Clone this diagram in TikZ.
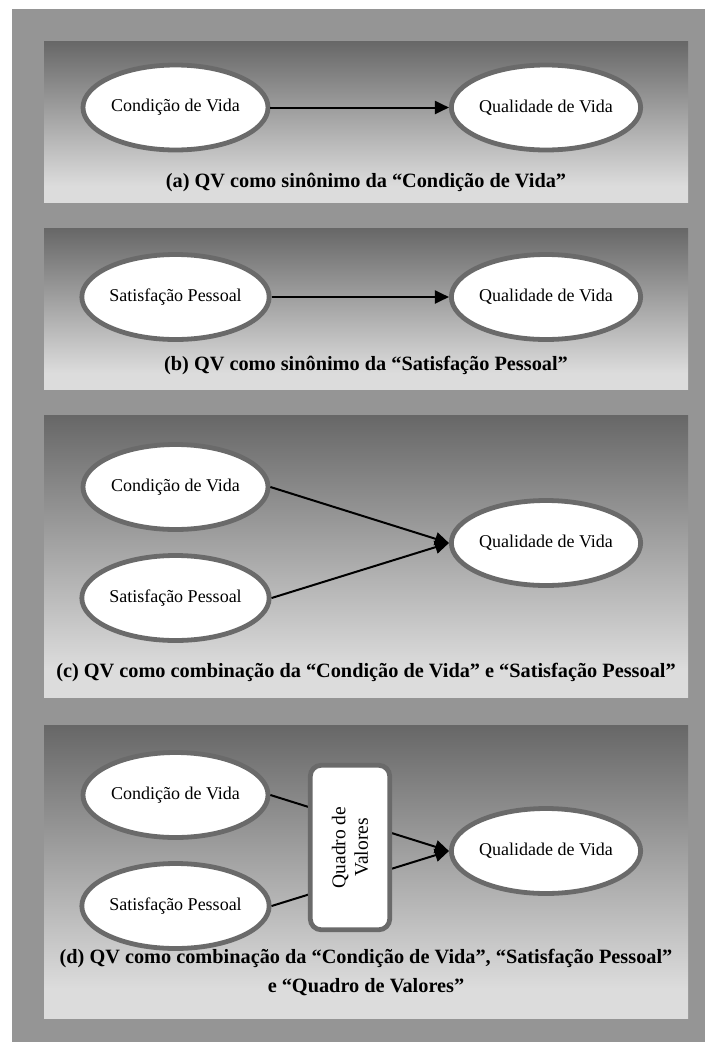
\documentclass[tikz,border=0pt]{standalone}
\usepackage{fontspec}
\setmainfont{Liberation Serif}
\usetikzlibrary{arrows.meta,shapes.geometric}

\definecolor{framegray}{HTML}{959595}
\definecolor{paneldark}{HTML}{676767}
\definecolor{panellight}{HTML}{DCDCDC}
\definecolor{ringgray}{HTML}{6A6A6A}

% dark at the top, fading to a light band near the bottom of each panel
\pgfdeclareverticalshading{panelfade}{100bp}{%
  color(0bp)=(panellight); color(30bp)=(panellight);
  color(75bp)=(paneldark); color(100bp)=(paneldark)}

\begin{document}
\begin{tikzpicture}[x=1pt,y=-1pt,
  oval/.style={ellipse, draw=ringgray, line width=4.8pt, fill=white,
    minimum width=185pt, minimum height=85pt, inner sep=0pt,
    font=\fontsize{18}{21}\selectfont},
  valuebox/.style={rectangle, rounded corners=11pt, draw=ringgray,
    line width=4.8pt, fill=white, rotate=90, align=center,
    minimum width=164.5pt, minimum height=79.5pt, inner sep=0pt,
    font=\fontsize{19.5}{22.5}\selectfont},
  capt/.style={font=\fontsize{20.3}{29}\selectfont\bfseries, align=center},
  link/.style={line width=2pt, -{Triangle[length=14pt,width=13pt]}}
]
% page and frame
\useasboundingbox (0,0) rectangle (705,1042);
\fill[white] (0,0) rectangle (705,1042);
\fill[framegray] (12,9) rectangle (705,1042);

% shaded panels
\shade[shading=panelfade] (44,41) rectangle (688,202);
\shade[shading=panelfade] (44,228) rectangle (688,389);
\shade[shading=panelfade] (44,415) rectangle (688,697);
\shade[shading=panelfade] (44,725) rectangle (688,1018);

% (a)
\node[oval] (condA) at (175.5,107.5) {Condição de Vida};
\node[oval] (qualA) at (546,107.5) {Qualidade de Vida};
\draw[link] (condA.east) -- (qualA.west);
\node[capt] (captA) at (366,182) {(a) QV como sinônimo da “Condição de Vida”};

% (b)
\node[oval] (satB) at (175.5,297) {Satisfação Pessoal};
\node[oval] (qualB) at (546,297) {Qualidade de Vida};
\draw[link] (satB.east) -- (qualB.west);
\node[capt] (captB) at (366,365) {(b) QV como sinônimo da “Satisfação Pessoal”};

% (c)
\node[oval] (condC) at (175.5,487) {Condição de Vida};
\node[oval] (satC) at (175.5,598) {Satisfação Pessoal};
\node[oval] (qualC) at (546,543) {Qualidade de Vida};
\draw[link] (condC.east) -- (qualC.west);
\draw[link] (satC.east) -- (qualC.west);
\node[capt] (captC) at (366,673) {(c) QV como combinação da “Condição de Vida” e “Satisfação Pessoal”};

% (d)
\node[oval] (condD) at (175.5,795) {Condição de Vida};
\node[oval] (satD) at (175.5,906) {Satisfação Pessoal};
\node[oval] (qualD) at (546,851) {Qualidade de Vida};
\draw[link] (condD.east) -- (qualD.west);
\draw[link] (satD.east) -- (qualD.west);
\node[valuebox] (valores) at (350,847.5) {Quadro de\\Valores};
\node[capt] (captD) at (366,972) {(d) QV como combinação da “Condição de Vida”, “Satisfação Pessoal”\\e “Quadro de Valores”};
\end{tikzpicture}
\end{document}
